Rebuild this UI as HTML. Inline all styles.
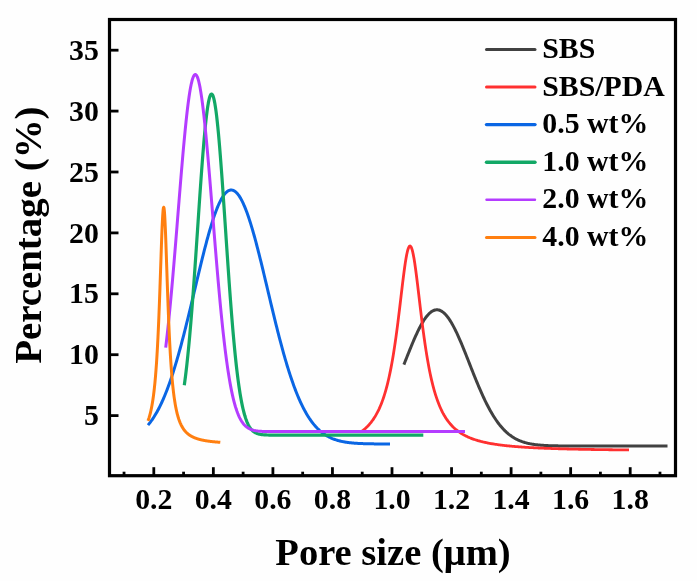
<!DOCTYPE html>
<html><head><meta charset="utf-8"><title>Pore size distribution</title>
<style>
html,body{margin:0;padding:0;background:#fff;}
svg{display:block;}
text{font-family:"Liberation Serif",serif;font-weight:bold;fill:#000;}
.t{font-size:29.8px;}
.l{font-size:38.6px;}
</style></head><body>
<svg width="697" height="581" viewBox="0 0 697 581">
<rect width="697" height="581" fill="#fefefe"/>

<g fill="none" stroke-linecap="butt" stroke-linejoin="round">
<path d="M403.90,364.66 L404.56,362.98 L405.22,361.30 L405.88,359.63 L406.54,357.95 L407.20,356.28 L407.86,354.62 L408.52,352.96 L409.19,351.32 L409.85,349.68 L410.51,348.06 L411.17,346.45 L411.83,344.85 L412.49,343.28 L413.15,341.72 L413.81,340.18 L414.47,338.66 L415.13,337.17 L415.79,335.70 L416.45,334.26 L417.11,332.84 L417.77,331.46 L418.43,330.10 L419.09,328.78 L419.76,327.49 L420.42,326.24 L421.08,325.02 L421.74,323.84 L422.40,322.71 L423.06,321.61 L423.72,320.55 L424.38,319.54 L425.04,318.57 L425.70,317.65 L426.36,316.77 L427.02,315.95 L427.68,315.17 L428.34,314.44 L429.00,313.76 L429.67,313.13 L430.33,312.56 L430.99,312.04 L431.65,311.57 L432.31,311.15 L432.97,310.79 L433.63,310.49 L434.29,310.24 L434.95,310.04 L435.61,309.91 L436.27,309.83 L436.93,309.80 L437.59,309.83 L438.25,309.92 L438.91,310.06 L439.58,310.26 L440.24,310.52 L440.90,310.83 L441.56,311.19 L442.22,311.61 L442.88,312.09 L443.54,312.61 L444.20,313.19 L444.86,313.82 L445.52,314.51 L446.18,315.24 L446.84,316.03 L447.50,316.86 L448.16,317.74 L448.82,318.67 L449.48,319.64 L450.15,320.65 L450.81,321.71 L451.47,322.82 L452.13,323.96 L452.79,325.14 L453.45,326.36 L454.11,327.62 L454.77,328.91 L455.43,330.23 L456.09,331.59 L456.75,332.98 L457.41,334.40 L458.07,335.84 L458.73,337.31 L459.39,338.81 L460.06,340.33 L460.72,341.87 L461.38,343.43 L462.04,345.01 L462.70,346.61 L463.36,348.22 L464.02,349.84 L464.68,351.48 L465.34,353.13 L466.00,354.78 L466.66,356.45 L467.32,358.12 L467.98,359.79 L468.64,361.47 L469.30,363.15 L469.97,364.83 L470.63,366.50 L471.29,368.18 L471.95,369.85 L472.61,371.52 L473.27,373.18 L473.93,374.83 L474.59,376.47 L475.25,378.11 L475.91,379.73 L476.57,381.34 L477.23,382.94 L477.89,384.52 L478.55,386.09 L479.21,387.64 L479.87,389.18 L480.54,390.70 L481.20,392.20 L481.86,393.68 L482.52,395.14 L483.18,396.58 L483.84,398.00 L484.50,399.40 L485.16,400.78 L485.82,402.13 L486.48,403.46 L487.14,404.77 L487.80,406.05 L488.46,407.31 L489.12,408.55 L489.78,409.76 L490.45,410.95 L491.11,412.11 L491.77,413.24 L492.43,414.35 L493.09,415.44 L493.75,416.50 L494.41,417.54 L495.07,418.55 L495.73,419.54 L496.39,420.50 L497.05,421.43 L497.71,422.35 L498.37,423.23 L499.03,424.10 L499.69,424.94 L500.36,425.75 L501.02,426.54 L501.68,427.31 L502.34,428.06 L503.00,428.78 L503.66,429.48 L504.32,430.16 L504.98,430.82 L505.64,431.45 L506.30,432.07 L506.96,432.66 L507.62,433.24 L508.28,433.79 L508.94,434.33 L509.60,434.84 L510.26,435.34 L510.93,435.82 L511.59,436.29 L512.25,436.73 L512.91,437.16 L513.57,437.57 L514.23,437.97 L514.89,438.35 L515.55,438.71 L516.21,439.07 L516.87,439.40 L517.53,439.73 L518.19,440.04 L518.85,440.33 L519.51,440.62 L520.17,440.89 L520.84,441.15 L521.50,441.40 L522.16,441.64 L522.82,441.86 L523.48,442.08 L524.14,442.29 L524.80,442.49 L525.46,442.67 L526.12,442.85 L526.78,443.03 L527.44,443.19 L528.10,443.34 L528.76,443.49 L529.42,443.63 L530.08,443.77 L530.75,443.89 L531.41,444.01 L532.07,444.13 L532.73,444.24 L533.39,444.34 L534.05,444.44 L534.71,444.53 L535.37,444.62 L536.03,444.70 L536.69,444.78 L537.35,444.85 L538.01,444.92 L538.67,444.99 L539.33,445.05 L539.99,445.11 L540.65,445.17 L541.32,445.22 L541.98,445.27 L542.64,445.31 L543.30,445.36 L543.96,445.40 L544.62,445.44 L545.28,445.48 L545.94,445.51 L546.60,445.54 L547.26,445.57 L547.92,445.60 L548.58,445.63 L549.24,445.65 L549.90,445.68 L550.56,445.70 L551.23,445.72 L551.89,445.74 L552.55,445.76 L553.21,445.77 L553.87,445.79 L554.53,445.81 L555.19,445.82 L555.85,445.83 L556.51,445.84 L557.17,445.86 L557.83,445.87 L558.49,445.88 L559.15,445.88 L559.81,445.89 L560.47,445.90 L561.14,445.91 L561.80,445.92 L562.46,445.92 L563.12,445.93 L563.78,445.93 L564.44,445.94 L565.10,445.94 L565.76,445.95 L566.42,445.95 L567.08,445.96 L567.74,445.96 L568.40,445.96 L569.06,445.97 L569.72,445.97 L570.38,445.97 L571.04,445.97 L571.71,445.97 L572.37,445.98 L573.03,445.98 L573.69,445.98 L574.35,445.98 L575.01,445.98 L575.67,445.99 L576.33,445.99 L576.99,445.99 L577.65,445.99 L578.31,445.99 L578.97,445.99 L579.63,445.99 L580.29,445.99 L580.95,445.99 L581.62,445.99 L582.28,445.99 L582.94,445.99 L583.60,445.99 L584.26,446.00 L584.92,446.00 L585.58,446.00 L586.24,446.00 L586.90,446.00 L587.56,446.00 L588.22,446.00 L588.88,446.00 L589.54,446.00 L590.20,446.00 L590.86,446.00 L591.53,446.00 L592.19,446.00 L592.85,446.00 L593.51,446.00 L594.17,446.00 L594.83,446.00 L595.49,446.00 L596.15,446.00 L596.81,446.00 L597.47,446.00 L598.13,446.00 L598.79,446.00 L599.45,446.00 L600.11,446.00 L600.77,446.00 L601.43,446.00 L602.10,446.00 L602.76,446.00 L603.42,446.00 L604.08,446.00 L604.74,446.00 L605.40,446.00 L606.06,446.00 L606.72,446.00 L607.38,446.00 L608.04,446.00 L608.70,446.00 L609.36,446.00 L610.02,446.00 L610.68,446.00 L611.34,446.00 L612.01,446.00 L612.67,446.00 L613.33,446.00 L613.99,446.00 L614.65,446.00 L615.31,446.00 L615.97,446.00 L616.63,446.00 L617.29,446.00 L617.95,446.00 L618.61,446.00 L619.27,446.00 L619.93,446.00 L620.59,446.00 L621.25,446.00 L621.92,446.00 L622.58,446.00 L623.24,446.00 L623.90,446.00 L624.56,446.00 L625.22,446.00 L625.88,446.00 L626.54,446.00 L627.20,446.00 L627.86,446.00 L628.52,446.00 L629.18,446.00 L629.84,446.00 L630.50,446.00 L631.16,446.00 L631.82,446.00 L632.49,446.00 L633.15,446.00 L633.81,446.00 L634.47,446.00 L635.13,446.00 L635.79,446.00 L636.45,446.00 L637.11,446.00 L637.77,446.00 L638.43,446.00 L639.09,446.00 L639.75,446.00 L640.41,446.00 L641.07,446.00 L641.73,446.00 L642.40,446.00 L643.06,446.00 L643.72,446.00 L644.38,446.00 L645.04,446.00 L645.70,446.00 L646.36,446.00 L647.02,446.00 L647.68,446.00 L648.34,446.00 L649.00,446.00 L649.66,446.00 L650.32,446.00 L650.98,446.00 L651.64,446.00 L652.31,446.00 L652.97,446.00 L653.63,446.00 L654.29,446.00 L654.95,446.00 L655.61,446.00 L656.27,446.00 L656.93,446.00 L657.59,446.00 L658.25,446.00 L658.91,446.00 L659.57,446.00 L660.23,446.00 L660.89,446.00 L661.55,446.00 L662.21,446.00 L662.88,446.00 L663.54,446.00 L664.20,446.00 L664.86,446.00 L665.52,446.00 L666.18,446.00 L666.84,446.00 L667.50,446.00" stroke="#414141" stroke-width="3.0"/>
<path d="M361.00,431.91 L361.67,431.43 L362.34,430.93 L363.02,430.41 L363.69,429.87 L364.36,429.31 L365.03,428.73 L365.70,428.12 L366.37,427.49 L367.05,426.84 L367.72,426.16 L368.39,425.45 L369.06,424.72 L369.73,423.95 L370.40,423.15 L371.08,422.32 L371.75,421.45 L372.42,420.54 L373.09,419.59 L373.76,418.60 L374.43,417.57 L375.11,416.49 L375.78,415.36 L376.45,414.18 L377.12,412.94 L377.79,411.64 L378.46,410.28 L379.14,408.86 L379.81,407.37 L380.48,405.80 L381.15,404.16 L381.82,402.44 L382.49,400.62 L383.17,398.72 L383.84,396.72 L384.51,394.62 L385.18,392.41 L385.85,390.09 L386.52,387.65 L387.20,385.08 L387.87,382.38 L388.54,379.54 L389.21,376.55 L389.88,373.41 L390.55,370.10 L391.23,366.64 L391.90,363.00 L392.57,359.18 L393.24,355.18 L393.91,351.00 L394.58,346.63 L395.26,342.07 L395.93,337.33 L396.60,332.41 L397.27,327.31 L397.94,322.06 L398.61,316.66 L399.29,311.14 L399.96,305.52 L400.63,299.85 L401.30,294.15 L401.97,288.49 L402.64,282.90 L403.32,277.46 L403.99,272.22 L404.66,267.26 L405.33,262.66 L406.00,258.48 L406.67,254.80 L407.35,251.70 L408.02,249.22 L408.69,247.42 L409.36,246.34 L410.03,246.00 L410.70,246.41 L411.38,247.56 L412.05,249.43 L412.72,251.97 L413.39,255.14 L414.06,258.87 L414.73,263.09 L415.41,267.73 L416.08,272.72 L416.75,277.98 L417.42,283.44 L418.09,289.03 L418.76,294.71 L419.44,300.40 L420.11,306.07 L420.78,311.68 L421.45,317.19 L422.12,322.57 L422.79,327.81 L423.47,332.89 L424.14,337.80 L424.81,342.52 L425.48,347.06 L426.15,351.41 L426.82,355.58 L427.50,359.56 L428.17,363.36 L428.84,366.98 L429.51,370.43 L430.18,373.72 L430.85,376.84 L431.53,379.82 L432.20,382.65 L432.87,385.33 L433.54,387.89 L434.21,390.32 L434.88,392.63 L435.56,394.83 L436.23,396.92 L436.90,398.91 L437.57,400.80 L438.24,402.61 L438.91,404.32 L439.59,405.96 L440.26,407.52 L440.93,409.00 L441.60,410.42 L442.27,411.77 L442.94,413.06 L443.62,414.29 L444.29,415.47 L444.96,416.59 L445.63,417.67 L446.30,418.70 L446.97,419.69 L447.65,420.63 L448.32,421.53 L448.99,422.40 L449.66,423.23 L450.33,424.03 L451.01,424.79 L451.68,425.52 L452.35,426.23 L453.02,426.91 L453.69,427.56 L454.36,428.18 L455.04,428.79 L455.71,429.37 L456.38,429.92 L457.05,430.46 L457.72,430.98 L458.39,431.48 L459.07,431.96 L459.74,432.42 L460.41,432.87 L461.08,433.31 L461.75,433.72 L462.42,434.13 L463.10,434.52 L463.77,434.89 L464.44,435.26 L465.11,435.61 L465.78,435.95 L466.45,436.28 L467.13,436.60 L467.80,436.91 L468.47,437.21 L469.14,437.50 L469.81,437.79 L470.48,438.06 L471.16,438.32 L471.83,438.58 L472.50,438.83 L473.17,439.07 L473.84,439.31 L474.51,439.54 L475.19,439.76 L475.86,439.98 L476.53,440.19 L477.20,440.39 L477.87,440.59 L478.54,440.78 L479.22,440.97 L479.89,441.15 L480.56,441.33 L481.23,441.50 L481.90,441.67 L482.57,441.84 L483.25,442.00 L483.92,442.15 L484.59,442.30 L485.26,442.45 L485.93,442.60 L486.60,442.74 L487.28,442.87 L487.95,443.01 L488.62,443.14 L489.29,443.27 L489.96,443.39 L490.63,443.51 L491.31,443.63 L491.98,443.75 L492.65,443.86 L493.32,443.97 L493.99,444.08 L494.66,444.18 L495.34,444.29 L496.01,444.39 L496.68,444.49 L497.35,444.58 L498.02,444.68 L498.69,444.77 L499.37,444.86 L500.04,444.95 L500.71,445.04 L501.38,445.12 L502.05,445.21 L502.72,445.29 L503.40,445.37 L504.07,445.44 L504.74,445.52 L505.41,445.60 L506.08,445.67 L506.75,445.74 L507.43,445.81 L508.10,445.88 L508.77,445.95 L509.44,446.01 L510.11,446.08 L510.78,446.14 L511.46,446.21 L512.13,446.27 L512.80,446.33 L513.47,446.39 L514.14,446.44 L514.81,446.50 L515.49,446.56 L516.16,446.61 L516.83,446.67 L517.50,446.72 L518.17,446.77 L518.84,446.82 L519.52,446.87 L520.19,446.92 L520.86,446.97 L521.53,447.02 L522.20,447.06 L522.87,447.11 L523.55,447.15 L524.22,447.20 L524.89,447.24 L525.56,447.28 L526.23,447.33 L526.90,447.37 L527.58,447.41 L528.25,447.45 L528.92,447.49 L529.59,447.53 L530.26,447.56 L530.93,447.60 L531.61,447.64 L532.28,447.68 L532.95,447.71 L533.62,447.75 L534.29,447.78 L534.96,447.81 L535.64,447.85 L536.31,447.88 L536.98,447.91 L537.65,447.95 L538.32,447.98 L538.99,448.01 L539.67,448.04 L540.34,448.07 L541.01,448.10 L541.68,448.13 L542.35,448.16 L543.03,448.18 L543.70,448.21 L544.37,448.24 L545.04,448.27 L545.71,448.29 L546.38,448.32 L547.06,448.34 L547.73,448.37 L548.40,448.40 L549.07,448.42 L549.74,448.44 L550.41,448.47 L551.09,448.49 L551.76,448.52 L552.43,448.54 L553.10,448.56 L553.77,448.58 L554.44,448.61 L555.12,448.63 L555.79,448.65 L556.46,448.67 L557.13,448.69 L557.80,448.71 L558.47,448.73 L559.15,448.75 L559.82,448.77 L560.49,448.79 L561.16,448.81 L561.83,448.83 L562.50,448.85 L563.18,448.87 L563.85,448.89 L564.52,448.91 L565.19,448.92 L565.86,448.94 L566.53,448.96 L567.21,448.98 L567.88,448.99 L568.55,449.01 L569.22,449.03 L569.89,449.04 L570.56,449.06 L571.24,449.07 L571.91,449.09 L572.58,449.11 L573.25,449.12 L573.92,449.14 L574.59,449.15 L575.27,449.17 L575.94,449.18 L576.61,449.20 L577.28,449.21 L577.95,449.22 L578.62,449.24 L579.30,449.25 L579.97,449.27 L580.64,449.28 L581.31,449.29 L581.98,449.31 L582.65,449.32 L583.33,449.33 L584.00,449.34 L584.67,449.36 L585.34,449.37 L586.01,449.38 L586.68,449.39 L587.36,449.41 L588.03,449.42 L588.70,449.43 L589.37,449.44 L590.04,449.45 L590.71,449.46 L591.39,449.48 L592.06,449.49 L592.73,449.50 L593.40,449.51 L594.07,449.52 L594.74,449.53 L595.42,449.54 L596.09,449.55 L596.76,449.56 L597.43,449.57 L598.10,449.58 L598.77,449.59 L599.45,449.60 L600.12,449.61 L600.79,449.62 L601.46,449.63 L602.13,449.64 L602.80,449.65 L603.48,449.66 L604.15,449.67 L604.82,449.68 L605.49,449.69 L606.16,449.70 L606.83,449.70 L607.51,449.71 L608.18,449.72 L608.85,449.73 L609.52,449.74 L610.19,449.75 L610.86,449.76 L611.54,449.76 L612.21,449.77 L612.88,449.78 L613.55,449.79 L614.22,449.80 L614.89,449.80 L615.57,449.81 L616.24,449.82 L616.91,449.83 L617.58,449.83 L618.25,449.84 L618.92,449.85 L619.60,449.86 L620.27,449.86 L620.94,449.87 L621.61,449.88 L622.28,449.88 L622.95,449.89 L623.63,449.90 L624.30,449.91 L624.97,449.91 L625.64,449.92 L626.31,449.93 L626.98,449.93 L627.66,449.94 L628.33,449.95 L629.00,449.95" stroke="#ff3030" stroke-width="2.8"/>
<path d="M148.00,425.10 L148.61,424.37 L149.21,423.62 L149.82,422.85 L150.43,422.05 L151.03,421.23 L151.64,420.39 L152.25,419.52 L152.85,418.63 L153.46,417.71 L154.07,416.77 L154.67,415.80 L155.28,414.80 L155.88,413.78 L156.49,412.73 L157.10,411.65 L157.70,410.55 L158.31,409.42 L158.92,408.25 L159.52,407.06 L160.13,405.84 L160.74,404.59 L161.34,403.31 L161.95,402.01 L162.56,400.67 L163.16,399.30 L163.77,397.90 L164.38,396.47 L164.98,395.01 L165.59,393.51 L166.20,391.99 L166.80,390.43 L167.41,388.85 L168.02,387.23 L168.62,385.58 L169.23,383.90 L169.83,382.19 L170.44,380.45 L171.05,378.68 L171.65,376.87 L172.26,375.04 L172.87,373.17 L173.47,371.27 L174.08,369.35 L174.69,367.39 L175.29,365.41 L175.90,363.39 L176.51,361.35 L177.11,359.28 L177.72,357.18 L178.33,355.05 L178.93,352.89 L179.54,350.71 L180.15,348.51 L180.75,346.27 L181.36,344.02 L181.96,341.74 L182.57,339.43 L183.18,337.11 L183.78,334.76 L184.39,332.39 L185.00,330.00 L185.60,327.59 L186.21,325.17 L186.82,322.73 L187.42,320.27 L188.03,317.80 L188.64,315.31 L189.24,312.81 L189.85,310.30 L190.46,307.78 L191.06,305.24 L191.67,302.70 L192.28,300.16 L192.88,297.61 L193.49,295.05 L194.10,292.49 L194.70,289.93 L195.31,287.37 L195.91,284.82 L196.52,282.26 L197.13,279.71 L197.73,277.16 L198.34,274.63 L198.95,272.10 L199.55,269.58 L200.16,267.07 L200.77,264.58 L201.37,262.10 L201.98,259.64 L202.59,257.20 L203.19,254.77 L203.80,252.37 L204.41,249.99 L205.01,247.64 L205.62,245.31 L206.23,243.01 L206.83,240.74 L207.44,238.50 L208.05,236.30 L208.65,234.12 L209.26,231.99 L209.86,229.89 L210.47,227.83 L211.08,225.81 L211.68,223.83 L212.29,221.90 L212.90,220.01 L213.50,218.16 L214.11,216.37 L214.72,214.62 L215.32,212.93 L215.93,211.28 L216.54,209.69 L217.14,208.16 L217.75,206.67 L218.36,205.25 L218.96,203.88 L219.57,202.57 L220.18,201.33 L220.78,200.14 L221.39,199.01 L221.99,197.95 L222.60,196.95 L223.21,196.02 L223.81,195.15 L224.42,194.34 L225.03,193.61 L225.63,192.94 L226.24,192.33 L226.85,191.80 L227.45,191.33 L228.06,190.94 L228.67,190.61 L229.27,190.35 L229.88,190.17 L230.49,190.05 L231.09,190.00 L231.70,190.02 L232.31,190.12 L232.91,190.28 L233.52,190.51 L234.13,190.81 L234.73,191.19 L235.34,191.63 L235.94,192.14 L236.55,192.72 L237.16,193.36 L237.76,194.07 L238.37,194.85 L238.98,195.70 L239.58,196.61 L240.19,197.59 L240.80,198.63 L241.40,199.73 L242.01,200.90 L242.62,202.13 L243.22,203.41 L243.83,204.76 L244.44,206.16 L245.04,207.63 L245.65,209.14 L246.26,210.71 L246.86,212.34 L247.47,214.02 L248.08,215.75 L248.68,217.52 L249.29,219.35 L249.89,221.22 L250.50,223.14 L251.11,225.10 L251.71,227.11 L252.32,229.16 L252.93,231.24 L253.53,233.36 L254.14,235.52 L254.75,237.72 L255.35,239.95 L255.96,242.20 L256.57,244.49 L257.17,246.81 L257.78,249.16 L258.39,251.53 L258.99,253.92 L259.60,256.34 L260.21,258.77 L260.81,261.23 L261.42,263.70 L262.03,266.19 L262.63,268.69 L263.24,271.20 L263.84,273.73 L264.45,276.27 L265.06,278.81 L265.66,281.36 L266.27,283.91 L266.88,286.47 L267.48,289.03 L268.09,291.59 L268.70,294.15 L269.30,296.70 L269.91,299.26 L270.52,301.81 L271.12,304.35 L271.73,306.88 L272.34,309.41 L272.94,311.92 L273.55,314.43 L274.16,316.92 L274.76,319.40 L275.37,321.86 L275.97,324.31 L276.58,326.74 L277.19,329.15 L277.79,331.55 L278.40,333.92 L279.01,336.28 L279.61,338.61 L280.22,340.92 L280.83,343.21 L281.43,345.48 L282.04,347.72 L282.65,349.93 L283.25,352.12 L283.86,354.29 L284.47,356.43 L285.07,358.54 L285.68,360.62 L286.29,362.67 L286.89,364.70 L287.50,366.69 L288.11,368.66 L288.71,370.60 L289.32,372.50 L289.92,374.38 L290.53,376.23 L291.14,378.04 L291.74,379.83 L292.35,381.58 L292.96,383.30 L293.56,384.99 L294.17,386.65 L294.78,388.28 L295.38,389.88 L295.99,391.44 L296.60,392.98 L297.20,394.48 L297.81,395.95 L298.42,397.39 L299.02,398.81 L299.63,400.19 L300.24,401.54 L300.84,402.86 L301.45,404.14 L302.06,405.40 L302.66,406.63 L303.27,407.84 L303.87,409.01 L304.48,410.15 L305.09,411.27 L305.69,412.35 L306.30,413.41 L306.91,414.45 L307.51,415.45 L308.12,416.43 L308.73,417.38 L309.33,418.31 L309.94,419.21 L310.55,420.09 L311.15,420.94 L311.76,421.76 L312.37,422.57 L312.97,423.35 L313.58,424.11 L314.19,424.84 L314.79,425.55 L315.40,426.25 L316.01,426.92 L316.61,427.56 L317.22,428.19 L317.82,428.80 L318.43,429.39 L319.04,429.96 L319.64,430.52 L320.25,431.05 L320.86,431.57 L321.46,432.06 L322.07,432.55 L322.68,433.01 L323.28,433.46 L323.89,433.90 L324.50,434.31 L325.10,434.72 L325.71,435.11 L326.32,435.48 L326.92,435.85 L327.53,436.19 L328.14,436.53 L328.74,436.85 L329.35,437.17 L329.95,437.47 L330.56,437.75 L331.17,438.03 L331.77,438.30 L332.38,438.55 L332.99,438.80 L333.59,439.03 L334.20,439.26 L334.81,439.48 L335.41,439.69 L336.02,439.89 L336.63,440.08 L337.23,440.26 L337.84,440.44 L338.45,440.61 L339.05,440.77 L339.66,440.93 L340.27,441.08 L340.87,441.22 L341.48,441.35 L342.09,441.48 L342.69,441.61 L343.30,441.73 L343.90,441.84 L344.51,441.95 L345.12,442.05 L345.72,442.15 L346.33,442.24 L346.94,442.33 L347.54,442.42 L348.15,442.50 L348.76,442.58 L349.36,442.65 L349.97,442.72 L350.58,442.79 L351.18,442.86 L351.79,442.92 L352.40,442.98 L353.00,443.03 L353.61,443.08 L354.22,443.13 L354.82,443.18 L355.43,443.22 L356.04,443.27 L356.64,443.31 L357.25,443.35 L357.85,443.38 L358.46,443.42 L359.07,443.45 L359.67,443.48 L360.28,443.51 L360.89,443.54 L361.49,443.57 L362.10,443.59 L362.71,443.61 L363.31,443.64 L363.92,443.66 L364.53,443.68 L365.13,443.70 L365.74,443.72 L366.35,443.73 L366.95,443.75 L367.56,443.76 L368.17,443.78 L368.77,443.79 L369.38,443.80 L369.98,443.82 L370.59,443.83 L371.20,443.84 L371.80,443.85 L372.41,443.86 L373.02,443.87 L373.62,443.87 L374.23,443.88 L374.84,443.89 L375.44,443.90 L376.05,443.90 L376.66,443.91 L377.26,443.92 L377.87,443.92 L378.48,443.93 L379.08,443.93 L379.69,443.94 L380.30,443.94 L380.90,443.94 L381.51,443.95 L382.12,443.95 L382.72,443.95 L383.33,443.96 L383.93,443.96 L384.54,443.96 L385.15,443.97 L385.75,443.97 L386.36,443.97 L386.97,443.97 L387.57,443.97 L388.18,443.98 L388.79,443.98 L389.39,443.98 L390.00,443.98" stroke="#0a66e4" stroke-width="3.0"/>
<path d="M184.30,385.17 L184.90,380.82 L185.50,376.20 L186.10,371.31 L186.70,366.13 L187.29,360.68 L187.89,354.94 L188.49,348.92 L189.09,342.62 L189.69,336.05 L190.29,329.20 L190.89,322.09 L191.49,314.73 L192.09,307.12 L192.69,299.29 L193.28,291.24 L193.88,283.00 L194.48,274.59 L195.08,266.02 L195.68,257.33 L196.28,248.54 L196.88,239.68 L197.48,230.77 L198.08,221.86 L198.68,212.97 L199.27,204.14 L199.87,195.40 L200.47,186.80 L201.07,178.36 L201.67,170.13 L202.27,162.14 L202.87,154.44 L203.47,147.05 L204.07,140.01 L204.67,133.37 L205.26,127.15 L205.86,121.38 L206.46,116.10 L207.06,111.33 L207.66,107.09 L208.26,103.42 L208.86,100.33 L209.46,97.84 L210.06,95.96 L210.66,94.70 L211.25,94.08 L211.85,94.08 L212.45,94.72 L213.05,95.99 L213.65,97.87 L214.25,100.37 L214.85,103.47 L215.45,107.15 L216.05,111.39 L216.65,116.17 L217.24,121.46 L217.84,127.23 L218.44,133.46 L219.04,140.11 L219.64,147.15 L220.24,154.55 L220.84,162.26 L221.44,170.25 L222.04,178.48 L222.64,186.92 L223.23,195.53 L223.83,204.27 L224.43,213.10 L225.03,221.99 L225.63,230.90 L226.23,239.81 L226.83,248.67 L227.43,257.46 L228.03,266.15 L228.63,274.71 L229.22,283.12 L229.82,291.36 L230.42,299.40 L231.02,307.23 L231.62,314.84 L232.22,322.20 L232.82,329.30 L233.42,336.15 L234.02,342.72 L234.62,349.01 L235.21,355.03 L235.81,360.76 L236.41,366.21 L237.01,371.38 L237.61,376.27 L238.21,380.89 L238.81,385.24 L239.41,389.32 L240.01,393.15 L240.61,396.72 L241.20,400.06 L241.80,403.17 L242.40,406.06 L243.00,408.73 L243.60,411.20 L244.20,413.48 L244.80,415.58 L245.40,417.51 L246.00,419.28 L246.60,420.89 L247.19,422.37 L247.79,423.71 L248.39,424.93 L248.99,426.04 L249.59,427.04 L250.19,427.94 L250.79,428.75 L251.39,429.49 L251.99,430.14 L252.59,430.73 L253.18,431.26 L253.78,431.73 L254.38,432.14 L254.98,432.51 L255.58,432.84 L256.18,433.13 L256.78,433.39 L257.38,433.61 L257.98,433.81 L258.58,433.98 L259.17,434.14 L259.77,434.27 L260.37,434.39 L260.97,434.49 L261.57,434.57 L262.17,434.65 L262.77,434.72 L263.37,434.77 L263.97,434.82 L264.57,434.86 L265.16,434.90 L265.76,434.93 L266.36,434.96 L266.96,434.98 L267.56,435.00 L268.16,435.01 L268.76,435.03 L269.36,435.04 L269.96,435.05 L270.56,435.06 L271.15,435.07 L271.75,435.07 L272.35,435.08 L272.95,435.08 L273.55,435.08 L274.15,435.09 L274.75,435.09 L275.35,435.09 L275.95,435.09 L276.55,435.09 L277.14,435.10 L277.74,435.10 L278.34,435.10 L278.94,435.10 L279.54,435.10 L280.14,435.10 L280.74,435.10 L281.34,435.10 L281.94,435.10 L282.54,435.10 L283.13,435.10 L283.73,435.10 L284.33,435.10 L284.93,435.10 L285.53,435.10 L286.13,435.10 L286.73,435.10 L287.33,435.10 L287.93,435.10 L288.53,435.10 L289.12,435.10 L289.72,435.10 L290.32,435.10 L290.92,435.10 L291.52,435.10 L292.12,435.10 L292.72,435.10 L293.32,435.10 L293.92,435.10 L294.52,435.10 L295.11,435.10 L295.71,435.10 L296.31,435.10 L296.91,435.10 L297.51,435.10 L298.11,435.10 L298.71,435.10 L299.31,435.10 L299.91,435.10 L300.51,435.10 L301.10,435.10 L301.70,435.10 L302.30,435.10 L302.90,435.10 L303.50,435.10 L304.10,435.10 L304.70,435.10 L305.30,435.10 L305.90,435.10 L306.50,435.10 L307.09,435.10 L307.69,435.10 L308.29,435.10 L308.89,435.10 L309.49,435.10 L310.09,435.10 L310.69,435.10 L311.29,435.10 L311.89,435.10 L312.49,435.10 L313.08,435.10 L313.68,435.10 L314.28,435.10 L314.88,435.10 L315.48,435.10 L316.08,435.10 L316.68,435.10 L317.28,435.10 L317.88,435.10 L318.48,435.10 L319.07,435.10 L319.67,435.10 L320.27,435.10 L320.87,435.10 L321.47,435.10 L322.07,435.10 L322.67,435.10 L323.27,435.10 L323.87,435.10 L324.47,435.10 L325.06,435.10 L325.66,435.10 L326.26,435.10 L326.86,435.10 L327.46,435.10 L328.06,435.10 L328.66,435.10 L329.26,435.10 L329.86,435.10 L330.46,435.10 L331.05,435.10 L331.65,435.10 L332.25,435.10 L332.85,435.10 L333.45,435.10 L334.05,435.10 L334.65,435.10 L335.25,435.10 L335.85,435.10 L336.45,435.10 L337.04,435.10 L337.64,435.10 L338.24,435.10 L338.84,435.10 L339.44,435.10 L340.04,435.10 L340.64,435.10 L341.24,435.10 L341.84,435.10 L342.44,435.10 L343.03,435.10 L343.63,435.10 L344.23,435.10 L344.83,435.10 L345.43,435.10 L346.03,435.10 L346.63,435.10 L347.23,435.10 L347.83,435.10 L348.43,435.10 L349.02,435.10 L349.62,435.10 L350.22,435.10 L350.82,435.10 L351.42,435.10 L352.02,435.10 L352.62,435.10 L353.22,435.10 L353.82,435.10 L354.42,435.10 L355.01,435.10 L355.61,435.10 L356.21,435.10 L356.81,435.10 L357.41,435.10 L358.01,435.10 L358.61,435.10 L359.21,435.10 L359.81,435.10 L360.41,435.10 L361.00,435.10 L361.60,435.10 L362.20,435.10 L362.80,435.10 L363.40,435.10 L364.00,435.10 L364.60,435.10 L365.20,435.10 L365.80,435.10 L366.40,435.10 L366.99,435.10 L367.59,435.10 L368.19,435.10 L368.79,435.10 L369.39,435.10 L369.99,435.10 L370.59,435.10 L371.19,435.10 L371.79,435.10 L372.39,435.10 L372.98,435.10 L373.58,435.10 L374.18,435.10 L374.78,435.10 L375.38,435.10 L375.98,435.10 L376.58,435.10 L377.18,435.10 L377.78,435.10 L378.38,435.10 L378.97,435.10 L379.57,435.10 L380.17,435.10 L380.77,435.10 L381.37,435.10 L381.97,435.10 L382.57,435.10 L383.17,435.10 L383.77,435.10 L384.37,435.10 L384.96,435.10 L385.56,435.10 L386.16,435.10 L386.76,435.10 L387.36,435.10 L387.96,435.10 L388.56,435.10 L389.16,435.10 L389.76,435.10 L390.36,435.10 L390.95,435.10 L391.55,435.10 L392.15,435.10 L392.75,435.10 L393.35,435.10 L393.95,435.10 L394.55,435.10 L395.15,435.10 L395.75,435.10 L396.35,435.10 L396.94,435.10 L397.54,435.10 L398.14,435.10 L398.74,435.10 L399.34,435.10 L399.94,435.10 L400.54,435.10 L401.14,435.10 L401.74,435.10 L402.34,435.10 L402.93,435.10 L403.53,435.10 L404.13,435.10 L404.73,435.10 L405.33,435.10 L405.93,435.10 L406.53,435.10 L407.13,435.10 L407.73,435.10 L408.33,435.10 L408.92,435.10 L409.52,435.10 L410.12,435.10 L410.72,435.10 L411.32,435.10 L411.92,435.10 L412.52,435.10 L413.12,435.10 L413.72,435.10 L414.32,435.10 L414.91,435.10 L415.51,435.10 L416.11,435.10 L416.71,435.10 L417.31,435.10 L417.91,435.10 L418.51,435.10 L419.11,435.10 L419.71,435.10 L420.31,435.10 L420.90,435.10 L421.50,435.10 L422.10,435.10 L422.70,435.10 L423.30,435.10" stroke="#12a866" stroke-width="3.2"/>
<path d="M165.70,347.58 L166.45,341.27 L167.20,334.67 L167.95,327.77 L168.70,320.60 L169.45,313.15 L170.20,305.43 L170.95,297.46 L171.70,289.25 L172.45,280.82 L173.20,272.18 L173.95,263.37 L174.70,254.40 L175.45,245.29 L176.20,236.08 L176.95,226.80 L177.70,217.47 L178.45,208.14 L179.20,198.83 L179.95,189.58 L180.70,180.44 L181.45,171.43 L182.20,162.60 L182.95,153.98 L183.70,145.62 L184.45,137.56 L185.20,129.83 L185.95,122.48 L186.70,115.53 L187.45,109.02 L188.20,103.00 L188.95,97.48 L189.70,92.50 L190.45,88.08 L191.20,84.26 L191.95,81.04 L192.70,78.45 L193.45,76.50 L194.20,75.21 L194.95,74.57 L195.71,74.60 L196.46,75.29 L197.21,76.63 L197.96,78.63 L198.71,81.27 L199.46,84.54 L200.21,88.41 L200.96,92.88 L201.71,97.90 L202.46,103.46 L203.21,109.53 L203.96,116.07 L204.71,123.05 L205.46,130.44 L206.21,138.19 L206.96,146.28 L207.71,154.66 L208.46,163.29 L209.21,172.14 L209.96,181.16 L210.71,190.32 L211.46,199.57 L212.21,208.88 L212.96,218.22 L213.71,227.54 L214.46,236.82 L215.21,246.02 L215.96,255.12 L216.71,264.08 L217.46,272.88 L218.21,281.50 L218.96,289.91 L219.71,298.10 L220.46,306.06 L221.21,313.75 L221.96,321.18 L222.71,328.34 L223.46,335.21 L224.21,341.78 L224.96,348.07 L225.71,354.06 L226.46,359.76 L227.21,365.15 L227.96,370.26 L228.71,375.08 L229.46,379.62 L230.21,383.88 L230.96,387.88 L231.71,391.61 L232.46,395.10 L233.21,398.34 L233.96,401.35 L234.71,404.14 L235.46,406.72 L236.21,409.09 L236.96,411.28 L237.71,413.29 L238.46,415.13 L239.21,416.82 L239.96,418.35 L240.71,419.75 L241.46,421.02 L242.21,422.17 L242.96,423.22 L243.71,424.16 L244.46,425.00 L245.21,425.77 L245.96,426.45 L246.71,427.06 L247.46,427.61 L248.21,428.10 L248.96,428.53 L249.71,428.91 L250.46,429.25 L251.21,429.56 L251.96,429.82 L252.71,430.06 L253.46,430.26 L254.21,430.44 L254.96,430.60 L255.72,430.74 L256.47,430.86 L257.22,430.96 L257.97,431.06 L258.72,431.13 L259.47,431.20 L260.22,431.26 L260.97,431.31 L261.72,431.36 L262.47,431.39 L263.22,431.42 L263.97,431.45 L264.72,431.48 L265.47,431.49 L266.22,431.51 L266.97,431.53 L267.72,431.54 L268.47,431.55 L269.22,431.56 L269.97,431.56 L270.72,431.57 L271.47,431.58 L272.22,431.58 L272.97,431.58 L273.72,431.59 L274.47,431.59 L275.22,431.59 L275.97,431.59 L276.72,431.59 L277.47,431.59 L278.22,431.60 L278.97,431.60 L279.72,431.60 L280.47,431.60 L281.22,431.60 L281.97,431.60 L282.72,431.60 L283.47,431.60 L284.22,431.60 L284.97,431.60 L285.72,431.60 L286.47,431.60 L287.22,431.60 L287.97,431.60 L288.72,431.60 L289.47,431.60 L290.22,431.60 L290.97,431.60 L291.72,431.60 L292.47,431.60 L293.22,431.60 L293.97,431.60 L294.72,431.60 L295.47,431.60 L296.22,431.60 L296.97,431.60 L297.72,431.60 L298.47,431.60 L299.22,431.60 L299.97,431.60 L300.72,431.60 L301.47,431.60 L302.22,431.60 L302.97,431.60 L303.72,431.60 L304.47,431.60 L305.22,431.60 L305.97,431.60 L306.72,431.60 L307.47,431.60 L308.22,431.60 L308.97,431.60 L309.72,431.60 L310.47,431.60 L311.22,431.60 L311.97,431.60 L312.72,431.60 L313.47,431.60 L314.22,431.60 L314.97,431.60 L315.73,431.60 L316.48,431.60 L317.23,431.60 L317.98,431.60 L318.73,431.60 L319.48,431.60 L320.23,431.60 L320.98,431.60 L321.73,431.60 L322.48,431.60 L323.23,431.60 L323.98,431.60 L324.73,431.60 L325.48,431.60 L326.23,431.60 L326.98,431.60 L327.73,431.60 L328.48,431.60 L329.23,431.60 L329.98,431.60 L330.73,431.60 L331.48,431.60 L332.23,431.60 L332.98,431.60 L333.73,431.60 L334.48,431.60 L335.23,431.60 L335.98,431.60 L336.73,431.60 L337.48,431.60 L338.23,431.60 L338.98,431.60 L339.73,431.60 L340.48,431.60 L341.23,431.60 L341.98,431.60 L342.73,431.60 L343.48,431.60 L344.23,431.60 L344.98,431.60 L345.73,431.60 L346.48,431.60 L347.23,431.60 L347.98,431.60 L348.73,431.60 L349.48,431.60 L350.23,431.60 L350.98,431.60 L351.73,431.60 L352.48,431.60 L353.23,431.60 L353.98,431.60 L354.73,431.60 L355.48,431.60 L356.23,431.60 L356.98,431.60 L357.73,431.60 L358.48,431.60 L359.23,431.60 L359.98,431.60 L360.73,431.60 L361.48,431.60 L362.23,431.60 L362.98,431.60 L363.73,431.60 L364.48,431.60 L365.23,431.60 L365.98,431.60 L366.73,431.60 L367.48,431.60 L368.23,431.60 L368.98,431.60 L369.73,431.60 L370.48,431.60 L371.23,431.60 L371.98,431.60 L372.73,431.60 L373.48,431.60 L374.23,431.60 L374.98,431.60 L375.74,431.60 L376.49,431.60 L377.24,431.60 L377.99,431.60 L378.74,431.60 L379.49,431.60 L380.24,431.60 L380.99,431.60 L381.74,431.60 L382.49,431.60 L383.24,431.60 L383.99,431.60 L384.74,431.60 L385.49,431.60 L386.24,431.60 L386.99,431.60 L387.74,431.60 L388.49,431.60 L389.24,431.60 L389.99,431.60 L390.74,431.60 L391.49,431.60 L392.24,431.60 L392.99,431.60 L393.74,431.60 L394.49,431.60 L395.24,431.60 L395.99,431.60 L396.74,431.60 L397.49,431.60 L398.24,431.60 L398.99,431.60 L399.74,431.60 L400.49,431.60 L401.24,431.60 L401.99,431.60 L402.74,431.60 L403.49,431.60 L404.24,431.60 L404.99,431.60 L405.74,431.60 L406.49,431.60 L407.24,431.60 L407.99,431.60 L408.74,431.60 L409.49,431.60 L410.24,431.60 L410.99,431.60 L411.74,431.60 L412.49,431.60 L413.24,431.60 L413.99,431.60 L414.74,431.60 L415.49,431.60 L416.24,431.60 L416.99,431.60 L417.74,431.60 L418.49,431.60 L419.24,431.60 L419.99,431.60 L420.74,431.60 L421.49,431.60 L422.24,431.60 L422.99,431.60 L423.74,431.60 L424.49,431.60 L425.24,431.60 L425.99,431.60 L426.74,431.60 L427.49,431.60 L428.24,431.60 L428.99,431.60 L429.74,431.60 L430.49,431.60 L431.24,431.60 L431.99,431.60 L432.74,431.60 L433.49,431.60 L434.24,431.60 L434.99,431.60 L435.75,431.60 L436.50,431.60 L437.25,431.60 L438.00,431.60 L438.75,431.60 L439.50,431.60 L440.25,431.60 L441.00,431.60 L441.75,431.60 L442.50,431.60 L443.25,431.60 L444.00,431.60 L444.75,431.60 L445.50,431.60 L446.25,431.60 L447.00,431.60 L447.75,431.60 L448.50,431.60 L449.25,431.60 L450.00,431.60 L450.75,431.60 L451.50,431.60 L452.25,431.60 L453.00,431.60 L453.75,431.60 L454.50,431.60 L455.25,431.60 L456.00,431.60 L456.75,431.60 L457.50,431.60 L458.25,431.60 L459.00,431.60 L459.75,431.60 L460.50,431.60 L461.25,431.60 L462.00,431.60 L462.75,431.60 L463.50,431.60 L464.25,431.60 L465.00,431.60" stroke="#b43cff" stroke-width="3.0"/>
<path d="M148.00,420.86 L148.18,420.37 L148.36,419.86 L148.54,419.33 L148.72,418.79 L148.91,418.23 L149.09,417.65 L149.27,417.05 L149.45,416.44 L149.63,415.80 L149.81,415.15 L149.99,414.47 L150.17,413.77 L150.36,413.04 L150.54,412.29 L150.72,411.52 L150.90,410.72 L151.08,409.89 L151.26,409.03 L151.44,408.14 L151.62,407.21 L151.81,406.26 L151.99,405.27 L152.17,404.24 L152.35,403.17 L152.53,402.07 L152.71,400.92 L152.89,399.73 L153.07,398.49 L153.25,397.21 L153.44,395.87 L153.62,394.49 L153.80,393.04 L153.98,391.54 L154.16,389.98 L154.34,388.36 L154.52,386.67 L154.70,384.91 L154.89,383.08 L155.07,381.18 L155.25,379.19 L155.43,377.13 L155.61,374.97 L155.79,372.73 L155.97,370.39 L156.15,367.96 L156.34,365.42 L156.52,362.78 L156.70,360.02 L156.88,357.15 L157.06,354.16 L157.24,351.05 L157.42,347.81 L157.60,344.44 L157.78,340.94 L157.97,337.30 L158.15,333.52 L158.33,329.59 L158.51,325.53 L158.69,321.32 L158.87,316.96 L159.05,312.47 L159.23,307.83 L159.42,303.07 L159.60,298.18 L159.78,293.17 L159.96,288.05 L160.14,282.85 L160.32,277.57 L160.50,272.24 L160.68,266.88 L160.87,261.51 L161.05,256.18 L161.23,250.91 L161.41,245.74 L161.59,240.71 L161.77,235.87 L161.95,231.26 L162.13,226.92 L162.32,222.90 L162.50,219.26 L162.68,216.03 L162.86,213.25 L163.04,210.96 L163.22,209.19 L163.40,207.97 L163.58,207.32 L163.76,207.24 L163.95,207.73 L164.13,208.79 L164.31,210.40 L164.49,212.54 L164.67,215.18 L164.85,218.29 L165.03,221.82 L165.21,225.73 L165.40,229.98 L165.58,234.52 L165.76,239.31 L165.94,244.29 L166.12,249.42 L166.30,254.66 L166.48,259.98 L166.66,265.34 L166.85,270.70 L167.03,276.05 L167.21,281.34 L167.39,286.57 L167.57,291.71 L167.75,296.75 L167.93,301.68 L168.11,306.48 L168.29,311.15 L168.48,315.69 L168.66,320.08 L168.84,324.34 L169.02,328.44 L169.20,332.41 L169.38,336.23 L169.56,339.91 L169.74,343.45 L169.93,346.86 L170.11,350.14 L170.29,353.29 L170.47,356.31 L170.65,359.21 L170.83,362.00 L171.01,364.67 L171.19,367.24 L171.38,369.71 L171.56,372.07 L171.74,374.34 L171.92,376.52 L172.10,378.61 L172.28,380.62 L172.46,382.55 L172.64,384.40 L172.82,386.18 L173.01,387.88 L173.19,389.53 L173.37,391.10 L173.55,392.62 L173.73,394.08 L173.91,395.48 L174.09,396.83 L174.27,398.13 L174.46,399.38 L174.64,400.58 L174.82,401.74 L175.00,402.86 L175.18,403.94 L175.36,404.98 L175.54,405.98 L175.72,406.94 L175.91,407.87 L176.09,408.77 L176.27,409.64 L176.45,410.48 L176.63,411.29 L176.81,412.07 L176.99,412.83 L177.17,413.56 L177.35,414.27 L177.54,414.96 L177.72,415.62 L177.90,416.26 L178.08,416.88 L178.26,417.48 L178.44,418.06 L178.62,418.63 L178.80,419.18 L178.99,419.71 L179.17,420.22 L179.35,420.72 L179.53,421.21 L179.71,421.68 L179.89,422.13 L180.07,422.58 L180.25,423.01 L180.44,423.42 L180.62,423.83 L180.80,424.23 L180.98,424.61 L181.16,424.98 L181.34,425.35 L181.52,425.70 L181.70,426.04 L181.88,426.38 L182.07,426.70 L182.25,427.02 L182.43,427.33 L182.61,427.63 L182.79,427.92 L182.97,428.21 L183.15,428.49 L183.33,428.76 L183.52,429.02 L183.70,429.28 L183.88,429.53 L184.06,429.78 L184.24,430.02 L184.42,430.25 L184.60,430.48 L184.78,430.70 L184.97,430.92 L185.15,431.14 L185.33,431.34 L185.51,431.55 L185.69,431.74 L185.87,431.94 L186.05,432.13 L186.23,432.31 L186.42,432.49 L186.60,432.67 L186.78,432.84 L186.96,433.01 L187.14,433.18 L187.32,433.34 L187.50,433.50 L187.68,433.65 L187.86,433.81 L188.05,433.96 L188.23,434.10 L188.41,434.24 L188.59,434.38 L188.77,434.52 L188.95,434.65 L189.13,434.79 L189.31,434.92 L189.50,435.04 L189.68,435.17 L189.86,435.29 L190.04,435.41 L190.22,435.52 L190.40,435.64 L190.58,435.75 L190.76,435.86 L190.95,435.97 L191.13,436.07 L191.31,436.18 L191.49,436.28 L191.67,436.38 L191.85,436.48 L192.03,436.57 L192.21,436.67 L192.39,436.76 L192.58,436.85 L192.76,436.94 L192.94,437.03 L193.12,437.12 L193.30,437.20 L193.48,437.29 L193.66,437.37 L193.84,437.45 L194.03,437.53 L194.21,437.61 L194.39,437.68 L194.57,437.76 L194.75,437.83 L194.93,437.90 L195.11,437.98 L195.29,438.05 L195.48,438.12 L195.66,438.18 L195.84,438.25 L196.02,438.32 L196.20,438.38 L196.38,438.45 L196.56,438.51 L196.74,438.57 L196.92,438.63 L197.11,438.69 L197.29,438.75 L197.47,438.81 L197.65,438.87 L197.83,438.92 L198.01,438.98 L198.19,439.03 L198.37,439.08 L198.56,439.14 L198.74,439.19 L198.92,439.24 L199.10,439.29 L199.28,439.34 L199.46,439.39 L199.64,439.44 L199.82,439.49 L200.01,439.53 L200.19,439.58 L200.37,439.63 L200.55,439.67 L200.73,439.71 L200.91,439.76 L201.09,439.80 L201.27,439.84 L201.45,439.89 L201.64,439.93 L201.82,439.97 L202.00,440.01 L202.18,440.05 L202.36,440.09 L202.54,440.13 L202.72,440.16 L202.90,440.20 L203.09,440.24 L203.27,440.27 L203.45,440.31 L203.63,440.35 L203.81,440.38 L203.99,440.42 L204.17,440.45 L204.35,440.48 L204.54,440.52 L204.72,440.55 L204.90,440.58 L205.08,440.61 L205.26,440.65 L205.44,440.68 L205.62,440.71 L205.80,440.74 L205.98,440.77 L206.17,440.80 L206.35,440.83 L206.53,440.86 L206.71,440.88 L206.89,440.91 L207.07,440.94 L207.25,440.97 L207.43,440.99 L207.62,441.02 L207.80,441.05 L207.98,441.07 L208.16,441.10 L208.34,441.13 L208.52,441.15 L208.70,441.18 L208.88,441.20 L209.07,441.23 L209.25,441.25 L209.43,441.27 L209.61,441.30 L209.79,441.32 L209.97,441.34 L210.15,441.37 L210.33,441.39 L210.52,441.41 L210.70,441.43 L210.88,441.45 L211.06,441.48 L211.24,441.50 L211.42,441.52 L211.60,441.54 L211.78,441.56 L211.96,441.58 L212.15,441.60 L212.33,441.62 L212.51,441.64 L212.69,441.66 L212.87,441.68 L213.05,441.70 L213.23,441.72 L213.41,441.73 L213.60,441.75 L213.78,441.77 L213.96,441.79 L214.14,441.81 L214.32,441.82 L214.50,441.84 L214.68,441.86 L214.86,441.88 L215.05,441.89 L215.23,441.91 L215.41,441.93 L215.59,441.94 L215.77,441.96 L215.95,441.97 L216.13,441.99 L216.31,442.01 L216.49,442.02 L216.68,442.04 L216.86,442.05 L217.04,442.07 L217.22,442.08 L217.40,442.10 L217.58,442.11 L217.76,442.13 L217.94,442.14 L218.13,442.16 L218.31,442.17 L218.49,442.18 L218.67,442.20 L218.85,442.21 L219.03,442.22 L219.21,442.24 L219.39,442.25 L219.58,442.26 L219.76,442.28 L219.94,442.29 L220.12,442.30 L220.30,442.32" stroke="#ff7f10" stroke-width="3.0"/>
</g>
<rect x="109.5" y="19.5" width="566.0" height="456.2" fill="none" stroke="#000" stroke-width="3.2"/>
<g stroke="#000" stroke-width="2.8">
<line x1="124.03" y1="475.7" x2="124.03" y2="471.7"/>
<line x1="153.80" y1="475.7" x2="153.80" y2="467.2"/>
<line x1="183.57" y1="475.7" x2="183.57" y2="471.7"/>
<line x1="213.35" y1="475.7" x2="213.35" y2="467.2"/>
<line x1="243.12" y1="475.7" x2="243.12" y2="471.7"/>
<line x1="272.90" y1="475.7" x2="272.90" y2="467.2"/>
<line x1="302.67" y1="475.7" x2="302.67" y2="471.7"/>
<line x1="332.45" y1="475.7" x2="332.45" y2="467.2"/>
<line x1="362.23" y1="475.7" x2="362.23" y2="471.7"/>
<line x1="392.00" y1="475.7" x2="392.00" y2="467.2"/>
<line x1="421.78" y1="475.7" x2="421.78" y2="471.7"/>
<line x1="451.55" y1="475.7" x2="451.55" y2="467.2"/>
<line x1="481.32" y1="475.7" x2="481.32" y2="471.7"/>
<line x1="511.10" y1="475.7" x2="511.10" y2="467.2"/>
<line x1="540.88" y1="475.7" x2="540.88" y2="471.7"/>
<line x1="570.65" y1="475.7" x2="570.65" y2="467.2"/>
<line x1="600.42" y1="475.7" x2="600.42" y2="471.7"/>
<line x1="630.20" y1="475.7" x2="630.20" y2="467.2"/>
<line x1="659.98" y1="475.7" x2="659.98" y2="471.7"/>
<line x1="109.5" y1="415.60" x2="118.5" y2="415.60"/>
<line x1="109.5" y1="354.70" x2="118.5" y2="354.70"/>
<line x1="109.5" y1="293.80" x2="118.5" y2="293.80"/>
<line x1="109.5" y1="232.90" x2="118.5" y2="232.90"/>
<line x1="109.5" y1="172.00" x2="118.5" y2="172.00"/>
<line x1="109.5" y1="111.10" x2="118.5" y2="111.10"/>
<line x1="109.5" y1="50.20" x2="118.5" y2="50.20"/>
</g>
<text class="t" x="153.80" y="509.4" text-anchor="middle">0.2</text>
<text class="t" x="213.35" y="509.4" text-anchor="middle">0.4</text>
<text class="t" x="272.90" y="509.4" text-anchor="middle">0.6</text>
<text class="t" x="332.45" y="509.4" text-anchor="middle">0.8</text>
<text class="t" x="392.00" y="509.4" text-anchor="middle">1.0</text>
<text class="t" x="451.55" y="509.4" text-anchor="middle">1.2</text>
<text class="t" x="511.10" y="509.4" text-anchor="middle">1.4</text>
<text class="t" x="570.65" y="509.4" text-anchor="middle">1.6</text>
<text class="t" x="630.20" y="509.4" text-anchor="middle">1.8</text>
<text class="t" x="98.8" y="425.20" text-anchor="end">5</text>
<text class="t" x="98.8" y="364.30" text-anchor="end">10</text>
<text class="t" x="98.8" y="303.40" text-anchor="end">15</text>
<text class="t" x="98.8" y="242.50" text-anchor="end">20</text>
<text class="t" x="98.8" y="181.60" text-anchor="end">25</text>
<text class="t" x="98.8" y="120.70" text-anchor="end">30</text>
<text class="t" x="98.8" y="59.80" text-anchor="end">35</text>
<text class="l" x="393" y="564.8" text-anchor="middle">Pore size (μm)</text>
<text class="l" style="font-size:38.9px" transform="translate(40.5,235.2) rotate(-90)" text-anchor="middle">Percentage (%)</text>
<line x1="486.5" y1="49.40" x2="535" y2="49.40" stroke="#414141" stroke-width="3.0" stroke-linecap="round"/>
<text class="t" x="542.3" y="58.00">SBS</text>
<line x1="486.5" y1="87.00" x2="535" y2="87.00" stroke="#ff3030" stroke-width="3.0" stroke-linecap="round"/>
<text class="t" x="542.3" y="95.60">SBS/PDA</text>
<line x1="486.5" y1="124.60" x2="535" y2="124.60" stroke="#0a66e4" stroke-width="3.4" stroke-linecap="round"/>
<text class="t" x="542.3" y="133.20">0.5 wt%</text>
<line x1="486.5" y1="162.20" x2="535" y2="162.20" stroke="#12a866" stroke-width="3.4" stroke-linecap="round"/>
<text class="t" x="542.3" y="170.80">1.0 wt%</text>
<line x1="486.5" y1="199.80" x2="535" y2="199.80" stroke="#b43cff" stroke-width="2.4" stroke-linecap="round"/>
<text class="t" x="542.3" y="208.40">2.0 wt%</text>
<line x1="486.5" y1="237.40" x2="535" y2="237.40" stroke="#ff7f10" stroke-width="3.0" stroke-linecap="round"/>
<text class="t" x="542.3" y="246.00">4.0 wt%</text>
</svg></body></html>
